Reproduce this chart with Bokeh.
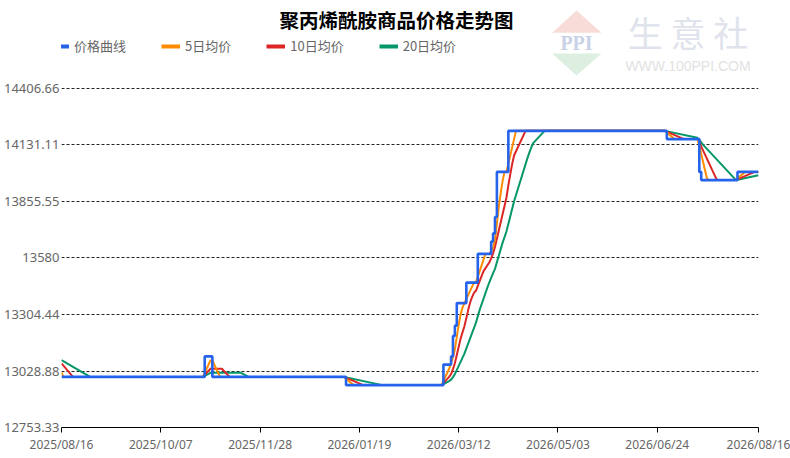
import pandas as pd
from bokeh.plotting import figure
from bokeh.models import (FixedTicker, CustomJSTickFormatter, DatetimeTickFormatter, Legend,
                          LegendItem, Label, PolyAnnotation, Range1d)
from bokeh.embed import file_html
from bokeh.resources import INLINE

# ---------------- data ----------------
title_text = "聚丙烯酰胺商品价格走势图"
series_names = ["价格曲线", "5日均价", "10日均价", "20日均价"]
series_colors = ["#2563eb", "#ff8c00", "#dc2626", "#059669"]

# price curve: value holds from each date until the next one
price_dates = ["2025-08-16", "2025-10-30", "2025-11-03", "2026-01-12", "2026-03-04",
               "2026-03-08", "2026-03-09", "2026-03-10", "2026-03-11", "2026-03-16",
               "2026-03-22", "2026-03-29", "2026-03-30", "2026-03-31", "2026-04-01",
               "2026-04-07", "2026-06-29", "2026-07-16", "2026-07-17", "2026-08-05",
               "2026-08-16"]
price_vals = [13000, 13100, 13000, 12960, 13060,
              13100, 13200, 13250, 13360, 13460,
              13600, 13660, 13700, 13780, 14000,
              14200, 14160, 14000, 13960, 14000,
              14000]

ma5_dates = ["2025-08-16", "2025-08-17", "2025-10-29", "2025-11-02", "2025-11-03", "2025-11-07",
             "2026-01-11", "2026-01-16", "2026-03-03", "2026-03-07", "2026-03-09", "2026-03-10",
             "2026-03-12", "2026-03-13", "2026-03-14", "2026-03-15", "2026-03-20", "2026-03-21",
             "2026-03-26", "2026-03-28", "2026-03-29", "2026-03-30", "2026-03-31", "2026-04-02",
             "2026-04-03", "2026-04-04", "2026-04-05", "2026-04-06", "2026-04-11", "2026-06-28",
             "2026-07-03", "2026-07-15", "2026-07-16", "2026-07-20", "2026-07-21", "2026-08-04",
             "2026-08-09", "2026-08-16"]
ma5_vals = [13022, 13000, 13000, 13080, 13080, 13000,
            13000, 12960, 12960, 13040, 13096, 13134,
            13254, 13306, 13338, 13360, 13460, 13460,
            13600, 13600, 13612, 13632, 13668, 13828,
            13896, 13956, 14000, 14000, 14200, 14200,
            14160, 14160, 14128, 13968, 13960, 13960,
            14000, 14000]

ma10_dates = ["2025-08-16", "2025-08-22", "2025-10-29", "2025-11-02", "2025-11-08", "2025-11-12",
              "2026-01-11", "2026-01-21", "2026-03-03", "2026-03-07", "2026-03-08", "2026-03-09",
              "2026-03-10", "2026-03-13", "2026-03-15", "2026-03-17", "2026-03-18", "2026-03-19",
              "2026-03-20", "2026-03-21", "2026-03-25", "2026-03-28", "2026-03-29", "2026-03-30",
              "2026-03-31", "2026-04-06", "2026-04-07", "2026-04-08", "2026-04-09", "2026-04-10",
              "2026-04-16", "2026-06-28", "2026-07-08", "2026-07-15", "2026-07-16", "2026-07-24",
              "2026-07-25", "2026-07-26", "2026-08-04", "2026-08-14", "2026-08-16"]
ma10_vals = [13066, 13000, 13000, 13040, 13040, 13000,
             13000, 12960, 12960, 13000, 13014, 13038,
             13067, 13187, 13247, 13327, 13363, 13389,
             13410, 13420, 13516, 13558, 13578, 13602,
             13634, 13874, 13934, 13988, 14038, 14080,
             14200, 14200, 14160, 14160, 14144, 13984,
             13964, 13960, 13960, 14000, 14000]

ma20_dates = ["2025-08-16", "2025-08-31", "2025-10-29", "2025-11-02", "2025-11-18", "2025-11-22",
              "2026-01-11", "2026-01-31", "2026-03-03", "2026-03-07", "2026-03-08", "2026-03-09",
              "2026-03-10", "2026-03-15", "2026-03-21", "2026-03-23", "2026-03-27", "2026-03-28",
              "2026-03-29", "2026-03-30", "2026-03-31", "2026-04-04", "2026-04-05", "2026-04-06",
              "2026-04-10", "2026-04-17", "2026-04-18", "2026-04-19", "2026-04-20", "2026-04-26",
              "2026-06-28", "2026-07-15", "2026-07-16", "2026-07-17", "2026-07-18", "2026-07-19",
              "2026-08-04", "2026-08-05", "2026-08-16"]
ma20_vals = [13082, 13000, 13000, 13020, 13020, 13000,
             13000, 12960, 12960, 12980, 12987, 12999,
             13013.5, 13113.5, 13263.5, 13327.5, 13435.5, 13460.5,
             13483.5, 13506, 13527, 13655, 13682, 13709,
             13857, 14067, 14094, 14119, 14140, 14200,
             14200, 14166, 14156, 14144, 14132, 14122,
             13962, 13962, 13984]

x_start, x_end = "2025-08-16", "2026-08-16"
x_tick_labels = ["2025/08/16", "2025/10/07", "2025/11/28", "2026/01/19",
                 "2026/03/12", "2026/05/03", "2026/06/24", "2026/08/16"]
y_ticks = [12753.33, 13028.88, 13304.44, 13580, 13855.55, 14131.11, 14406.66]
y_tick_labels = ["12753.33", "13028.88", "13304.44", "13580", "13855.55", "14131.11", "14406.66"]

# ---------------- layout ----------------
W, H = 790, 456
FL, FR, FT, FB = 60, 758, 0, 427   # frame edges in page pixels (frame reaches the top)
TOP_GRID_Y = 88                      # page y of the highest tick line


def rel(px, py):
    """page pixel -> screen units relative to the frame (bottom-left origin)"""
    return px - FL, FB - py


# the frame runs up to the page top, so the value range is extended above the top tick
y_top = y_ticks[0] + (y_ticks[-1] - y_ticks[0]) * (FB - FT) / (FB - TOP_GRID_Y)

p = figure(width=W, height=H, x_axis_type="datetime", output_backend="svg",
           toolbar_location=None, title_location=None,
           x_range=Range1d(pd.Timestamp(x_start), pd.Timestamp(x_end)),
           y_range=Range1d(y_ticks[0], y_top),
           min_border_left=FL, min_border_right=W - FR,
           min_border_top=FT, min_border_bottom=H - FB)
p.outline_line_color = None
p.background_fill_color = "white"
p.border_fill_color = "white"

# axes
x_tick_ms = [pd.Timestamp(s.replace("/", "-")).value // 10**6 for s in x_tick_labels]
p.xaxis.ticker = FixedTicker(ticks=x_tick_ms)
p.xaxis.formatter = DatetimeTickFormatter(days="%Y/%m/%d", months="%Y/%m/%d", years="%Y/%m/%d")
p.xaxis.major_label_overrides = dict(zip(x_tick_ms, x_tick_labels))
p.xaxis.axis_line_color = "#000000"
p.xaxis.axis_line_width = 1
p.xaxis.major_tick_line_color = "#000000"
p.xaxis.major_tick_out = 5
p.xaxis.major_tick_in = 0
p.xaxis.minor_tick_line_color = None
p.xaxis.major_label_standoff = 3
p.xaxis.major_label_text_font = "Noto Sans"
p.xaxis.major_label_text_font_size = "12px"
p.xaxis.major_label_text_color = "#666666"

p.yaxis.ticker = FixedTicker(ticks=y_ticks)
p.yaxis.formatter = CustomJSTickFormatter(code="return (Math.round(tick*100)/100).toString();")
p.yaxis.major_label_overrides = dict(zip(y_ticks, y_tick_labels))
p.yaxis.axis_line_color = None
p.yaxis.major_tick_line_color = None
p.yaxis.minor_tick_line_color = None
p.yaxis.major_tick_out = 0
p.yaxis.major_tick_in = 0
p.yaxis.major_label_standoff = 2
p.yaxis.major_label_text_font = "Noto Sans"
p.yaxis.major_label_text_font_size = "13px"
p.yaxis.major_label_text_color = "#666666"

p.xgrid.grid_line_color = None
p.ygrid.grid_line_color = "#222222"
p.ygrid.grid_line_width = 1
p.ygrid.grid_line_dash = "3 2"

# series (moving averages below, price curve on top)
ma_series = [(ma20_dates, ma20_vals, series_colors[3]),
             (ma10_dates, ma10_vals, series_colors[2]),
             (ma5_dates, ma5_vals, series_colors[1])]
for d, v, c in ma_series:
    p.line(x=pd.to_datetime(d), y=v, line_color=c, line_width=2)
p.step(x=pd.to_datetime(price_dates), y=price_vals, mode="after",
       line_color=series_colors[0], line_width=2.6)

# legend: swatch-only renderers (a single non-drawn point each)
dummies = [p.line(x=[pd.Timestamp(x_start)], y=[float("nan")], line_color=c, line_width=4)
           for c in series_colors]
lx, ly = rel(49, 55)
legend = Legend(items=[LegendItem(label=n, renderers=[r]) for n, r in zip(series_names, dummies)],
                orientation="horizontal", location=(lx, ly),
                glyph_width=19, glyph_height=14, label_height=14, label_width=10,
                label_standoff=5, spacing=35, padding=0, margin=0,
                border_line_color=None, background_fill_alpha=0,
                label_text_font="Noto Sans CJK SC", label_text_font_size="13px",
                label_text_color="#666666")
p.add_layout(legend, "center")

# title
tx, ty = rel(395, 19)
p.add_layout(Label(x=tx, y=ty, x_units="screen", y_units="screen", text=title_text,
                   text_align="center", text_baseline="middle",
                   text_font="Noto Sans CJK SC", text_font_size="19.5px",
                   text_font_style="bold", text_color="#000000"))

# watermark (生意社 logo)
pink = [rel(575, 10), rel(550.7, 32.3), rel(600, 32.3)]
green = [rel(550.7, 53), rel(600, 53), rel(575, 75)]
p.add_layout(PolyAnnotation(xs=[a for a, b in pink], ys=[b for a, b in pink],
                            xs_units="screen", ys_units="screen",
                            fill_color="#f8dcd8", fill_alpha=1, line_color=None))
p.add_layout(PolyAnnotation(xs=[a for a, b in green], ys=[b for a, b in green],
                            xs_units="screen", ys_units="screen",
                            fill_color="#dcefe0", fill_alpha=1, line_color=None))
px_, py_ = rel(575, 42.5)
p.add_layout(Label(x=px_, y=py_, x_units="screen", y_units="screen", text="PPI",
                   text_align="center", text_baseline="middle",
                   text_font="Liberation Serif", text_font_size="20px",
                   text_font_style="bold", text_color="#c9d2e6"))
sx_, sy_ = rel(686.5, 31)
p.add_layout(Label(x=sx_, y=sy_, x_units="screen", y_units="screen", text="生 意 社",
                   text_align="center", text_baseline="middle",
                   text_font="Noto Sans CJK SC", text_font_size="35px",
                   text_color="#dfe3ec"))
wx_, wy_ = rel(686.5, 65)
p.add_layout(Label(x=wx_, y=wy_, x_units="screen", y_units="screen", text="WWW.100PPI.COM",
                   text_align="center", text_baseline="middle",
                   text_font="Liberation Sans", text_font_size="14px",
                   text_color="#e2e2e2"))

open("out.html", "w").write(file_html(p, INLINE))
